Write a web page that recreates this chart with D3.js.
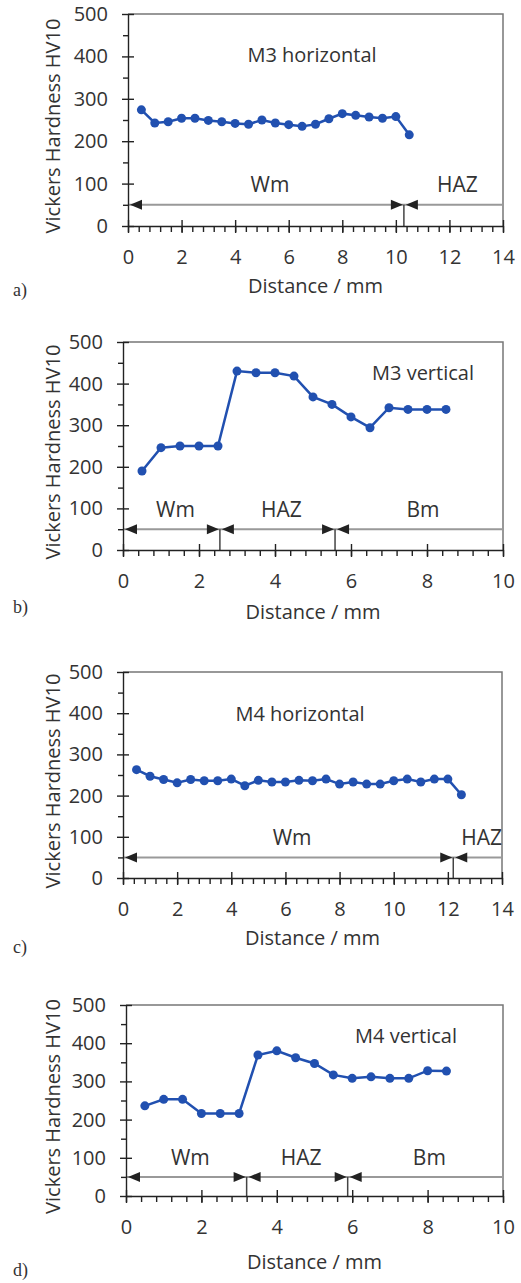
<!DOCTYPE html>
<html>
<head>
<meta charset="utf-8">
<script src="https://cdn.jsdelivr.net/npm/d3@7"></script>
<style>
  body { margin: 0; background: #fff; }
  svg { display: block; }
  .axis path, .axis line { stroke: #222; stroke-width: 1.4px; }
  .axis text { font-family: "Open Sans", sans-serif; font-size: 20px; fill: #333; }
</style>
</head>
<body>
<div id="chart"></div>
<script>
// Panel texts
const panelLetters = ["a)", "b)", "c)", "d)"];
const panelTitles = ["M3 horizontal", "M3 vertical", "M4 horizontal", "M4 vertical"];
const xMaxes = [14, 10, 14, 10];
const xTicksWide = [0, 2, 4, 6, 8, 10, 12, 14];
const xTicksNarrow = [0, 2, 4, 6, 8, 10];
const yTicks = [0, 100, 200, 300, 400, 500];
const zoneLevel = 50;
const zoneLabelLevel = 80;

// a) M3 horizontal
const distA = [0.5, 1, 1.5, 2, 2.5, 3, 3.5, 4, 4.5, 5, 5.5, 6, 6.5, 7, 7.5, 8, 8.5, 9, 9.5, 10, 10.5];
const hvA = [274, 243, 246, 254, 254, 249, 246, 242, 240, 250, 243, 239, 235, 240, 253, 265, 261, 257, 254, 258, 215];
const zoneBoundsA = [10.3];
const zoneNamesA = ["Wm", "HAZ"];

// b) M3 vertical
const distB = [0.5, 1, 1.5, 2, 2.5, 3, 3.5, 4, 4.5, 5, 5.5, 6, 6.5, 7, 7.5, 8, 8.5];
const hvB = [190, 246, 250, 250, 250, 430, 426, 426, 418, 368, 350, 320, 294, 342, 338, 338, 338];
const zoneBoundsB = [2.55, 5.58];
const zoneNamesB = ["Wm", "HAZ", "Bm"];

// c) M4 horizontal
const distC = [0.5, 1, 1.5, 2, 2.5, 3, 3.5, 4, 4.5, 5, 5.5, 6, 6.5, 7, 7.5, 8, 8.5, 9, 9.5, 10, 10.5, 11, 11.5, 12, 12.5];
const hvC = [263, 247, 239, 231, 239, 236, 236, 240, 224, 237, 233, 233, 237, 236, 240, 228, 233, 228, 228, 236, 240, 233, 240, 240, 202];
const zoneBoundsC = [12.2];
const zoneNamesC = ["Wm", "HAZ"];

// d) M4 vertical
const distD = [0.5, 1, 1.5, 2, 2.5, 3, 3.5, 4, 4.5, 5, 5.5, 6, 6.5, 7, 7.5, 8, 8.5];
const hvD = [236, 253, 253, 216, 216, 216, 369, 380, 362, 347, 317, 308, 312, 308, 308, 328, 327];
const zoneBoundsD = [3.2, 5.88];
const zoneNamesD = ["Wm", "HAZ", "Bm"];

const panelData = [
  {x: distA, y: hvA, bounds: zoneBoundsA, names: zoneNamesA, ticks: xTicksWide},
  {x: distB, y: hvB, bounds: zoneBoundsB, names: zoneNamesB, ticks: xTicksNarrow},
  {x: distC, y: hvC, bounds: zoneBoundsC, names: zoneNamesC, ticks: xTicksWide},
  {x: distD, y: hvD, bounds: zoneBoundsD, names: zoneNamesD, ticks: xTicksNarrow}
];

// Pixel layout of each panel
const layout = [
  {left: 128, right: 503, top: 14, bottom: 226, titleX: 312, titleY: 62, xTitleY: 293, letterY: 296},
  {left: 123, right: 503, top: 342, bottom: 550, titleX: 423, titleY: 380, xTitleY: 619, letterY: 613},
  {left: 123, right: 502, top: 672, bottom: 878, titleX: 300, titleY: 721, xTitleY: 945, letterY: 953},
  {left: 126, right: 503, top: 1005, bottom: 1196, titleX: 406, titleY: 1043, xTitleY: 1269, letterY: 1276}
];

const blue = "#2150b0";
const fontFam = "'Open Sans', sans-serif";

let svg = d3.select("#chart")
  .append("svg")
  .attr("width", 521)
  .attr("height", 1283);

panelData.forEach((p, i) => {
  let L = layout[i];
  let g = svg.append("g").attr("class", "panel-" + i);

  let xScale = d3.scaleLinear().domain([0, xMaxes[i]]).range([L.left, L.right]);
  let yScale = d3.scaleLinear().domain([0, 500]).range([L.bottom, L.top]);

  // Frame (top and right edges)
  g.append("path")
    .attr("d", "M" + L.left + "," + L.top + "H" + L.right + "V" + L.bottom)
    .attr("fill", "none")
    .attr("stroke", "#777")
    .attr("stroke-width", 1.5);

  // Zone line at 50 HV
  let zy = yScale(zoneLevel);
  g.append("line")
    .attr("x1", xScale(0)).attr("x2", L.right)
    .attr("y1", zy).attr("y2", zy)
    .attr("stroke", "#999")
    .attr("stroke-width", 2);

  // Divider lines at zone boundaries
  g.selectAll(".divider")
    .data(p.bounds)
    .enter()
    .append("line")
    .attr("class", "divider")
    .attr("x1", d => xScale(d)).attr("x2", d => xScale(d))
    .attr("y1", zy).attr("y2", yScale(0))
    .attr("stroke", "#444")
    .attr("stroke-width", 1.5);

  // Arrowheads: left-pointing at each zone start, right-pointing at each zone end
  let leftTips = [0].concat(p.bounds);
  let rightTips = p.bounds;
  let aLen = 12, aHalf = 5;
  g.selectAll(".arrow-left")
    .data(leftTips)
    .enter()
    .append("path")
    .attr("class", "arrow-left")
    .attr("d", d => {
      let x0 = xScale(d) + 2;
      return "M" + x0 + "," + zy + "L" + (x0 + aLen) + "," + (zy - aHalf) + "L" + (x0 + aLen) + "," + (zy + aHalf) + "Z";
    })
    .attr("fill", "#222");
  g.selectAll(".arrow-right")
    .data(rightTips)
    .enter()
    .append("path")
    .attr("class", "arrow-right")
    .attr("d", d => {
      let x0 = xScale(d) - 1;
      return "M" + x0 + "," + zy + "L" + (x0 - aLen) + "," + (zy - aHalf) + "L" + (x0 - aLen) + "," + (zy + aHalf) + "Z";
    })
    .attr("fill", "#222");

  // Zone labels centred in each zone
  let edges = [0].concat(p.bounds, [xMaxes[i]]);
  g.selectAll(".zone-label")
    .data(p.names)
    .enter()
    .append("text")
    .attr("class", "zone-label")
    .attr("x", (d, k) => (xScale(edges[k]) + xScale(edges[k + 1])) / 2 + 4)
    .attr("y", yScale(zoneLabelLevel))
    .attr("text-anchor", "middle")
    .attr("font-family", fontFam)
    .attr("font-size", "21px")
    .attr("fill", "#333")
    .text(d => d);

  // Y axis: outside part of major ticks with labels, inside part, minor ticks
  g.append("g")
    .attr("class", "axis")
    .attr("transform", "translate(" + L.left + ",0)")
    .call(d3.axisLeft(yScale).tickValues(d3.range(50, 500, 100)).tickSize(5).tickFormat(""))
    .call(a => a.select(".domain").remove());
  g.append("g")
    .attr("class", "axis")
    .attr("transform", "translate(" + L.left + ",0)")
    .call(d3.axisRight(yScale).tickValues(yTicks).tickSize(6).tickFormat(""))
    .call(a => a.select(".domain").remove());
  g.append("g")
    .attr("class", "axis")
    .attr("transform", "translate(" + L.left + ",0)")
    .call(d3.axisLeft(yScale).tickValues(yTicks).tickSize(6).tickSizeOuter(0).tickPadding(14));

  // X axis
  let minorX = d3.range(0, xMaxes[i] + 0.001, 0.4);
  g.append("g")
    .attr("class", "axis")
    .attr("transform", "translate(0," + L.bottom + ")")
    .call(d3.axisBottom(xScale).tickValues(minorX).tickSize(6).tickFormat(""))
    .call(a => a.select(".domain").remove());
  g.append("g")
    .attr("class", "axis")
    .attr("transform", "translate(0," + L.bottom + ")")
    .call(d3.axisTop(xScale).tickValues(p.ticks).tickSize(6).tickFormat(""))
    .call(a => a.select(".domain").remove());
  g.append("g")
    .attr("class", "axis")
    .attr("transform", "translate(0," + L.bottom + ")")
    .call(d3.axisBottom(xScale).tickValues(p.ticks).tickSize(7).tickSizeOuter(0).tickPadding(17));

  // Data line and markers
  let pts = p.x.map((d, k) => ({x: d, y: p.y[k]}));
  let lineGen = d3.line()
    .x(d => xScale(d.x))
    .y(d => yScale(d.y));
  g.append("path")
    .datum(pts)
    .attr("d", lineGen)
    .attr("fill", "none")
    .attr("stroke", blue)
    .attr("stroke-width", 2.5);
  g.selectAll(".dot")
    .data(pts)
    .enter()
    .append("circle")
    .attr("class", "dot")
    .attr("cx", d => xScale(d.x))
    .attr("cy", d => yScale(d.y))
    .attr("r", 4.5)
    .attr("fill", blue);

  // Panel title
  g.append("text")
    .attr("x", L.titleX)
    .attr("y", L.titleY)
    .attr("text-anchor", "middle")
    .attr("font-family", fontFam)
    .attr("font-size", "20px")
    .attr("fill", "#333")
    .text(panelTitles[i]);

  // Axis titles
  g.append("text")
    .attr("x", (L.left + L.right) / 2)
    .attr("y", L.xTitleY)
    .attr("text-anchor", "middle")
    .attr("font-family", fontFam)
    .attr("font-size", "20px")
    .attr("fill", "#333")
    .text("Distance / mm");

  g.append("text")
    .attr("transform", "translate(53," + ((L.top + L.bottom) / 2 + 6) + ") rotate(-90)")
    .attr("text-anchor", "middle")
    .attr("dy", "0.35em")
    .attr("font-family", fontFam)
    .attr("font-size", "20px")
    .attr("fill", "#333")
    .text("Vickers Hardness HV10");

  // Panel letter
  g.append("text")
    .attr("x", 13)
    .attr("y", L.letterY)
    .attr("font-family", "'Liberation Serif', serif")
    .attr("font-size", "18px")
    .attr("fill", "#333")
    .text(panelLetters[i]);
});
</script>
</body>
</html>
